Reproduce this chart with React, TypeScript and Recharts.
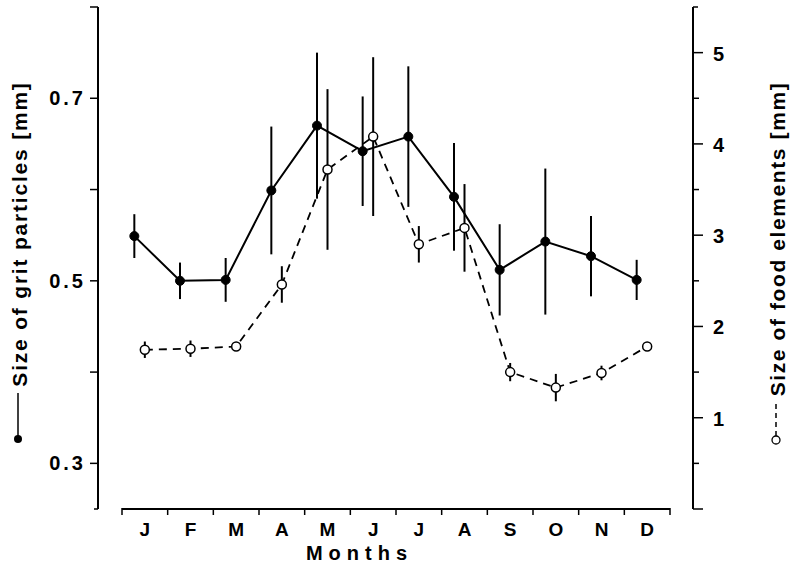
import { LineChart, Line, XAxis, YAxis, ErrorBar, ReferenceLine } from "recharts"

const months = ["J", "F", "M", "A", "M", "J", "J", "A", "S", "O", "N", "D"]
// grit particles, left axis (mm)
const gritSize = [0.549, 0.5, 0.501, 0.599, 0.67, 0.642, 0.658, 0.592, 0.512, 0.543, 0.527, 0.501]
const gritSd = [0.024, 0.02, 0.024, 0.07, 0.08, 0.06, 0.077, 0.059, 0.05, 0.08, 0.044, 0.022]
// food elements, right axis (mm)
const foodSize = [1.745, 1.756, 1.78, 2.46, 3.72, 4.08, 2.9, 3.08, 1.5, 1.33, 1.49, 1.78]
const foodSd = [0.09, 0.09, 0.04, 0.2, 0.88, 0.87, 0.2, 0.48, 0.1, 0.15, 0.08, 0.04]

const gritTicks = [0.25, 0.3, 0.4, 0.5, 0.6, 0.7, 0.8]
const gritLabels = [0.3, 0.5, 0.7]
const foodTicks = [0, 0.5, 1, 1.5, 2, 2.5, 3, 3.5, 4, 4.5, 5, 5.5]
const foodLabels = [1, 2, 3, 4, 5]

const monthEdges = [...months.map((_, i) => i), months.length]
const monthCentres = months.map((_, i) => i + 0.5)

// grit points sit a little left of the month centre in the original
const data = months.map((m, i) => ({
  month: m,
  gx: i + 0.27,
  fx: i + 0.5,
  grit: gritSize[i],
  gritSd: gritSd[i],
  food: foodSize[i],
  foodSd: foodSd[i],
}))

const FONT = "'Liberation Sans', Arial, Helvetica, sans-serif"

function GritTick({ x, y, payload }: any) {
  const v = payload.value
  const len = v === 0.25 ? 4 : 8
  return (
    <g>
      <line x1={x - len} x2={x} y1={y} y2={y} stroke="#000" strokeWidth={1.5} />
      {gritLabels.includes(v) && (
        <text x={x - 12} y={y + 7} textAnchor="end" fontSize={20} fontWeight="bold" letterSpacing={3} fontFamily={FONT} fill="#000">
          {v.toFixed(1)}
        </text>
      )}
    </g>
  )
}

function FoodTick({ x, y, payload }: any) {
  const v = payload.value
  const len = v === 5.5 ? 5 : Number.isInteger(v) ? 10 : 6
  return (
    <g>
      <line x1={x} x2={x + len} y1={y} y2={y} stroke="#000" strokeWidth={1.5} />
      {foodLabels.includes(v) && (
        <text x={x + 20} y={y + 8} textAnchor="start" fontSize={20} fontWeight="bold" fontFamily={FONT} fill="#000">
          {v}
        </text>
      )}
    </g>
  )
}

function EdgeTick({ x, y }: any) {
  return <line x1={x} x2={x} y1={y - 1} y2={y + 6} stroke="#000" strokeWidth={1.5} />
}

function GritAxisLabel({ viewBox }: any) {
  const bx = viewBox.x + 27
  const cy = viewBox.y + 227
  const dotY = viewBox.y + 432
  return (
    <g>
      <text
        x={bx}
        y={cy}
        transform={`rotate(-90, ${bx}, ${cy})`}
        textAnchor="middle"
        fontSize={21}
        fontWeight="bold"
        letterSpacing={1.8}
        fontFamily={FONT}
        fill="#000"
      >
        Size of grit particles [mm]
      </text>
      <line x1={bx - 9} x2={bx - 9} y1={dotY} y2={dotY - 46} stroke="#000" strokeWidth={1.5} />
      <circle cx={bx - 9} cy={dotY} r={4} fill="#000" />
    </g>
  )
}

function FoodAxisLabel({ viewBox }: any) {
  const bx = viewBox.x + 92
  const cy = viewBox.y + 232
  const dotY = viewBox.y + 433
  return (
    <g>
      <text
        x={bx}
        y={cy}
        transform={`rotate(-90, ${bx}, ${cy})`}
        textAnchor="middle"
        fontSize={21}
        fontWeight="bold"
        letterSpacing={1.6}
        fontFamily={FONT}
        fill="#000"
      >
        Size of food elements [mm]
      </text>
      <line x1={bx - 9} x2={bx - 9} y1={dotY - 4} y2={dotY - 38} stroke="#000" strokeWidth={1.5} strokeDasharray="5 4" />
      <circle cx={bx - 9} cy={dotY} r={4} fill="#fff" stroke="#000" strokeWidth={1.3} />
    </g>
  )
}

export default function App() {
  return (
    <div style={{ position: "absolute", left: 0, top: 0, background: "#fff" }}>
      <LineChart width={794} height={570} data={data} margin={{ top: 7, right: 0, bottom: 0, left: 0 }} style={{ fontFamily: FONT }}>
        <XAxis
          xAxisId="edges"
          dataKey="gx"
          type="number"
          domain={[0, 12]}
          ticks={monthEdges}
          interval={0}
          height={1}
          padding={{ left: 24, right: 23 }}
          axisLine={false}
          tickLine={false}
          tickSize={0}
          tickMargin={0}
          tick={<EdgeTick />}
        />
        <XAxis
          xAxisId="months"
          dataKey="fx"
          type="number"
          domain={[0, 12]}
          ticks={monthCentres}
          interval={0}
          height={60}
          padding={{ left: 24, right: 23 }}
          axisLine={false}
          tickLine={false}
          tickMargin={7}
          tickFormatter={(v) => months[Math.floor(v)]}
          tick={{ fill: "#000", fontSize: 19, fontWeight: "bold", fontFamily: FONT }}
          label={{
            value: "Months",
            position: "insideBottom",
            offset: 10,
            dx: -36,
            fill: "#000",
            fontSize: 20,
            fontWeight: "bold",
            letterSpacing: 6,
            fontFamily: FONT,
          }}
        />
        <YAxis
          yAxisId="grit"
          orientation="left"
          type="number"
          width={98}
          domain={[0.25, 0.8]}
          ticks={gritTicks}
          interval={0}
          allowDataOverflow
          tickSize={0}
          tickMargin={0}
          tickLine={false}
          axisLine={{ stroke: "#000", strokeWidth: 2 }}
          tick={<GritTick />}
          label={{ content: (p: any) => <GritAxisLabel viewBox={p.viewBox} /> }}
        />
        <YAxis
          yAxisId="food"
          orientation="right"
          type="number"
          width={101}
          domain={[0, 5.5]}
          ticks={foodTicks}
          interval={0}
          allowDataOverflow
          tickSize={0}
          tickMargin={0}
          tickLine={false}
          axisLine={{ stroke: "#000", strokeWidth: 2 }}
          tick={<FoodTick />}
          label={{ content: (p: any) => <FoodAxisLabel viewBox={p.viewBox} /> }}
        />
        <ReferenceLine
          xAxisId="edges"
          yAxisId="grit"
          segment={[
            { x: 0, y: 0.25 },
            { x: 12, y: 0.25 },
          ]}
          stroke="#000"
          strokeWidth={2}
        />
        <Line
          xAxisId="months"
          yAxisId="food"
          dataKey="food"
          type="linear"
          stroke="#000"
          strokeWidth={1.8}
          strokeDasharray="8 6"
          dot={{ r: 4.5, fill: "#fff", stroke: "#000", strokeWidth: 1.5, strokeDasharray: "0" }}
          isAnimationActive={false}
        >
          <ErrorBar dataKey="foodSd" direction="y" width={0} stroke="#000" strokeWidth={2} isAnimationActive={false} />
        </Line>
        <Line
          xAxisId="edges"
          yAxisId="grit"
          dataKey="grit"
          type="linear"
          stroke="#000"
          strokeWidth={2}
          dot={{ r: 4.5, fill: "#000", stroke: "#000", strokeWidth: 1 }}
          isAnimationActive={false}
        >
          <ErrorBar dataKey="gritSd" direction="y" width={0} stroke="#000" strokeWidth={2} isAnimationActive={false} />
        </Line>
      </LineChart>
    </div>
  )
}
